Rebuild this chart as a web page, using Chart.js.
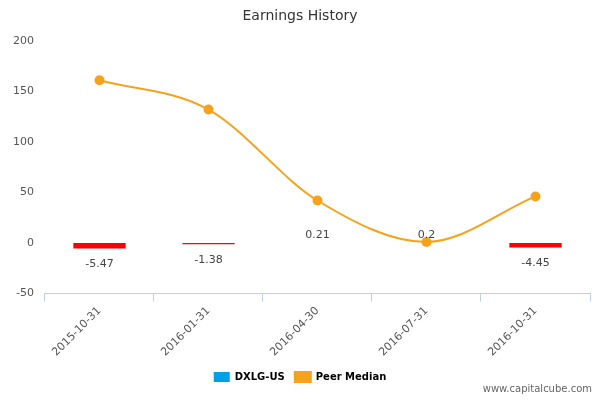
<!DOCTYPE html>
<html>
<head>
<script src="https://cdn.jsdelivr.net/npm/chart.js"></script>
<style>
body { margin: 0; background: #fff; }
#wrap { width: 600px; height: 400px; position: relative; }
#mark { position: absolute; right: 8px; bottom: 6px; font: 10px "DejaVu Sans", sans-serif; color: #666; }
</style>
</head>
<body>
<div id="wrap"><canvas id="grafico" width="600" height="400"></canvas><div id="mark">www.capitalcube.com</div></div>
<script>
var fechas = ['2015-10-31', '2016-01-31', '2016-04-30', '2016-07-31', '2016-10-31'];
var dxlg = [-5.47, -1.38, 0.21, 0.2, -4.45];
var peer = [161, 132, 42, 1, 46];
var ticksY = [-50, 0, 50, 100, 150, 200];

// etiquetas de las barras
var etiquetas = {
	id: 'etiquetas',
	afterDatasetsDraw: function (chart) {
		var ctx = chart.ctx;
		var meta = chart.getDatasetMeta(0);
		ctx.save();
		ctx.font = '11px "DejaVu Sans", sans-serif';
		ctx.fillStyle = '#444';
		ctx.textAlign = 'center';
		meta.data.forEach(function (bar, i) {
			var v = dxlg[i];
			var y = v < 0 ? bar.y + 16 : bar.y - 8;
			ctx.fillText(String(v), bar.x, y);
		});
		ctx.restore();
	}
};

var ctx = document.getElementById('grafico').getContext('2d');
var chart = new Chart(ctx, {
	data: {
		labels: fechas,
		datasets: [{
			type: 'bar',
			label: 'DXLG-US',
			data: dxlg,
			backgroundColor: dxlg.map(function (v) { return v < 0 ? '#ff0000' : 'rgba(0,160,233,0)'; }),
			barPercentage: 0.48,
			categoryPercentage: 1,
			order: 2
		}, {
			type: 'line',
			label: 'Peer Median',
			data: peer,
			borderColor: '#f7a21b',
			backgroundColor: '#f7a21b',
			borderWidth: 2,
			pointRadius: 4,
			cubicInterpolationMode: 'monotone',
			order: 1
		}]
	},
	options: {
		responsive: false,
		animation: false,
		layout: { padding: { left: 10, right: 10, bottom: 8, top: 4 } },
		plugins: {
			title: { display: true, text: 'Earnings History', color: '#333', font: { size: 14, weight: 'normal', family: 'DejaVu Sans' }, padding: { top: 4, bottom: 16 } },
			legend: {
				position: 'bottom',
				labels: {
					font: { size: 10, weight: 'bold', family: 'DejaVu Sans' },
					color: '#333',
					boxWidth: 16,
					boxHeight: 10,
					generateLabels: function (c) {
						return [
							{ text: 'DXLG-US', fillStyle: '#00a0e9', strokeStyle: '#00a0e9', lineWidth: 0, datasetIndex: 0 },
							{ text: 'Peer Median', fillStyle: '#f7a21b', strokeStyle: '#f7a21b', lineWidth: 2, datasetIndex: 1 }
						];
					}
				}
			},
			tooltip: { enabled: false }
		},
		scales: {
			x: {
				grid: { display: true, drawOnChartArea: false, color: '#c0d0e0', offset: true, tickLength: 8 },
				border: { color: '#c0d0e0' },
				ticks: { maxRotation: 45, minRotation: 45, color: '#555', font: { size: 11, family: 'DejaVu Sans' } }
			},
			y: {
				min: -50, max: 200,
				afterBuildTicks: function (s) { s.ticks = ticksY.map(function (v) { return { value: v }; }); },
				grid: { display: false },
				border: { display: false },
				ticks: { color: '#555', font: { size: 11, family: 'DejaVu Sans' } }
			}
		}
	},
	plugins: [etiquetas]
});
</script>
</body>
</html>
